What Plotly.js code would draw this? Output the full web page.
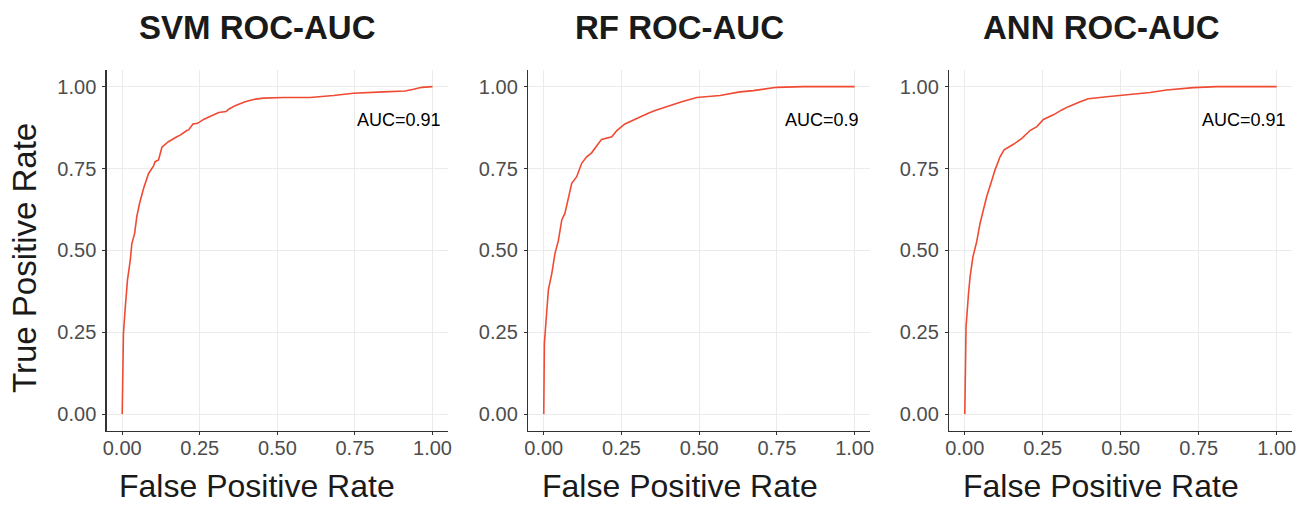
<!DOCTYPE html>
<html>
<head>
<meta charset="utf-8">
<script src="https://cdn.plot.ly/plotly-3.0.1.min.js"></script>
<style>html,body{margin:0;padding:0;background:#fff;}#chart{width:1305px;height:506px;}</style>
</head>
<body>
<div id="chart"></div>
<script>
// ---- data ----
var models = ["SVM", "RF", "ANN"];
var aucLabels = ["AUC=0.91", "AUC=0.9", "AUC=0.91"];

var svmFPR = [0, 0.004, 0.01, 0.017, 0.026, 0.031, 0.04, 0.047, 0.056, 0.069, 0.085, 0.101, 0.106, 0.117, 0.128, 0.149, 0.176, 0.187, 0.208, 0.214, 0.228, 0.243, 0.262, 0.284, 0.311, 0.335, 0.343, 0.364, 0.396, 0.423, 0.455, 0.52, 0.606, 0.681, 0.745, 0.842, 0.912, 0.939, 0.966, 1];
var svmTPR = [0, 0.247, 0.328, 0.41, 0.47, 0.52, 0.552, 0.603, 0.644, 0.69, 0.735, 0.758, 0.771, 0.776, 0.815, 0.832, 0.847, 0.852, 0.866, 0.868, 0.886, 0.888, 0.9, 0.91, 0.921, 0.924, 0.931, 0.942, 0.954, 0.961, 0.965, 0.967, 0.967, 0.973, 0.98, 0.984, 0.987, 0.992, 0.998, 1];

var rfFPR = [0, 0.001, 0.002, 0.01, 0.015, 0.026, 0.036, 0.047, 0.058, 0.068, 0.079, 0.09, 0.106, 0.122, 0.138, 0.154, 0.17, 0.186, 0.219, 0.235, 0.261, 0.288, 0.32, 0.336, 0.358, 0.395, 0.444, 0.492, 0.567, 0.631, 0.674, 0.749, 0.835, 1];
var rfTPR = [0, 0.117, 0.216, 0.318, 0.38, 0.43, 0.49, 0.53, 0.593, 0.613, 0.664, 0.705, 0.725, 0.766, 0.786, 0.798, 0.819, 0.839, 0.847, 0.866, 0.886, 0.898, 0.914, 0.919, 0.927, 0.939, 0.954, 0.967, 0.973, 0.984, 0.988, 0.998, 1, 1];

var annFPR = [0, 0.001, 0.004, 0.012, 0.017, 0.026, 0.038, 0.049, 0.06, 0.07, 0.087, 0.097, 0.113, 0.126, 0.156, 0.183, 0.209, 0.231, 0.252, 0.284, 0.311, 0.332, 0.37, 0.396, 0.455, 0.519, 0.594, 0.647, 0.733, 0.808, 1];
var annTPR = [0, 0.165, 0.267, 0.369, 0.42, 0.48, 0.526, 0.583, 0.628, 0.664, 0.715, 0.746, 0.786, 0.807, 0.824, 0.842, 0.866, 0.878, 0.9, 0.914, 0.929, 0.939, 0.954, 0.963, 0.969, 0.974, 0.982, 0.99, 0.997, 1, 1];

var tickVals = [0, 0.25, 0.5, 0.75, 1];
var tickText = ["0.00", "0.25", "0.50", "0.75", "1.00"];

var xTitle = "False Positive Rate";
var yTitle = "True Positive Rate";

// ---- layout geometry ----
var W = 1305, H = 506;
var panelsPx = [[106.7, 448.0], [528.2, 870.2], [949.2, 1292.3]];
var titleCentersPx = [257, 680, 1101];
var aucX = [1.035, 1.022, 1.035];
var yTopPx = 70.3, yBotPx = 430.5;

var FONT = "Liberation Sans, Arial, Helvetica, sans-serif";
var lineColor = "#F04A33";

var series = [[svmFPR, svmTPR], [rfFPR, rfTPR], [annFPR, annTPR]];
var traces = [];
var layout = {
  width: W, height: H,
  margin: {l: 0, r: 0, t: 0, b: 0},
  paper_bgcolor: "#ffffff",
  plot_bgcolor: "#ffffff",
  showlegend: false,
  font: {family: FONT, color: "#4D4D4D"},
  annotations: []
};

var yDomain = [(H - yBotPx) / H, (H - yTopPx) / H];

for (var i = 0; i < 3; i++) {
  var sfx = i === 0 ? "" : String(i + 1);
  traces.push({
    x: series[i][0], y: series[i][1],
    xaxis: "x" + sfx, yaxis: "y" + sfx,
    type: "scatter", mode: "lines",
    line: {color: lineColor, width: 1.6},
    hoverinfo: "skip"
  });
  var axCommon = {
    range: [-0.05, 1.05],
    tickvals: tickVals, ticktext: tickText,
    showgrid: true, gridcolor: "#EBEBEB", gridwidth: 1,
    zeroline: false,
    showline: true, linecolor: "#333333", linewidth: 1.4,
    ticks: "outside", ticklen: 3, tickwidth: 1, tickcolor: "#333333",
    tickfont: {family: FONT, size: 20, color: "#4D4D4D"},
    fixedrange: true
  };
  var xa = Object.assign({}, axCommon, {
    domain: [panelsPx[i][0] / W, panelsPx[i][1] / W],
    anchor: "y" + sfx,
    ticklabelstandoff: -4
  });
  var ya = Object.assign({}, axCommon, {
    domain: yDomain,
    anchor: "x" + sfx,
    ticklabelstandoff: 2
  });
  layout["xaxis" + sfx] = xa;
  layout["yaxis" + sfx] = ya;

  // panel title
  layout.annotations.push({
    text: "<b>" + models[i] + " ROC-AUC</b>",
    xref: "paper", yref: "paper",
    x: titleCentersPx[i] / W, y: 1 - 27 / H,
    xanchor: "center", yanchor: "middle",
    showarrow: false,
    font: {family: FONT, size: 33, color: "#1A1A1A"}
  });
  // x axis title
  layout.annotations.push({
    text: xTitle,
    xref: "paper", yref: "paper",
    x: titleCentersPx[i] / W, y: 1 - 486 / H,
    xanchor: "center", yanchor: "middle",
    showarrow: false,
    font: {family: FONT, size: 32, color: "#1A1A1A"}
  });
  // AUC label
  layout.annotations.push({
    text: aucLabels[i],
    xref: "x" + sfx, yref: "y" + sfx,
    x: aucX[i], y: 0.898,
    xanchor: "right", yanchor: "middle",
    showarrow: false,
    font: {family: FONT, size: 18, color: "#000000"}
  });
}

// y axis title (shared, left)
layout.annotations.push({
  text: yTitle,
  xref: "paper", yref: "paper",
  x: 24 / W, y: 1 - 258 / H,
  xanchor: "center", yanchor: "middle",
  textangle: -90,
  showarrow: false,
  font: {family: FONT, size: 33, color: "#1A1A1A"}
});

Plotly.newPlot("chart", traces, layout, {displayModeBar: false, staticPlot: true});
</script>
</body>
</html>
